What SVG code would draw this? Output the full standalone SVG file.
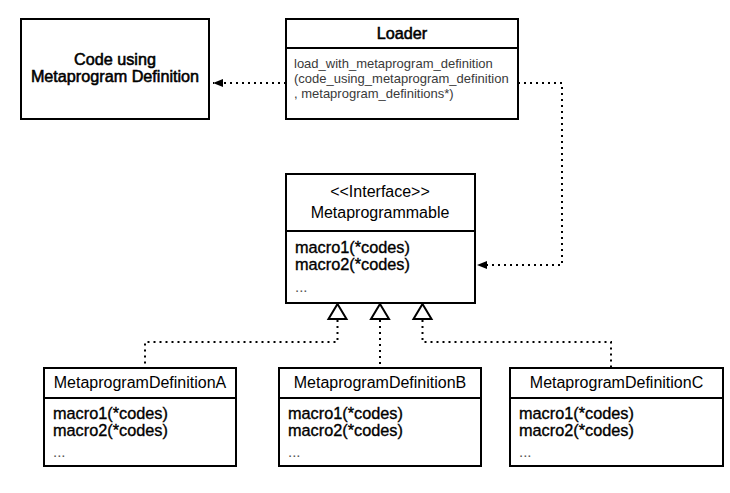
<svg xmlns="http://www.w3.org/2000/svg" width="730" height="493" viewBox="0 0 730 493">
<defs>
<style>
.box{fill:#fff;stroke:#000;stroke-width:2}
.div{stroke:#000;stroke-width:2}
.t{font-family:"Liberation Sans",Arial,sans-serif;fill:#000}
.title{font-size:16px;text-anchor:middle}
.head{font-size:16.2px;text-anchor:middle;stroke:#000;stroke-width:0.55}
.body{font-size:16.3px;stroke:#000;stroke-width:0.35}
.small{font-size:13px;fill:#3a3a3a}
.dots{font-size:15px;fill:#555}
.conn{fill:none;stroke:#000;stroke-width:2;stroke-dasharray:2 4}
.tri{fill:#fff;stroke:#000;stroke-width:2}
</style>
<marker id="arr" markerWidth="10" markerHeight="8" refX="10" refY="4" orient="auto" markerUnits="userSpaceOnUse">
<path d="M0,0 L10,4 L0,8 Z" fill="#000"/>
</marker>
</defs>
<rect width="730" height="493" fill="#fff"/>
<g id="connectors">
<path class="conn" d="M286,83 L213,83" marker-end="url(#arr)"/>
<path class="conn" d="M518,83 L562,83 L562,265 L477,265" marker-end="url(#arr)"/>
<path class="conn" d="M337.5,320 L337.5,342 L145,342 L145,367"/>
<path class="conn" d="M380,320 L380,367"/>
<path class="conn" d="M422.5,320 L422.5,342 L611,342 L611,367"/>
<path class="tri" d="M337.5,304 L346.5,319 L328.5,319 Z"/>
<path class="tri" d="M380,304 L389,319 L371,319 Z"/>
<path class="tri" d="M422.5,304 L431.5,319 L413.5,319 Z"/>
</g>
<g id="code-using">
<rect class="box" x="21" y="19" width="188" height="100"/>
<text class="t head" x="115" y="65">Code using</text>
<text class="t head" x="115" y="82">Metaprogram Definition</text>
</g>
<g id="loader">
<rect class="box" x="286" y="19" width="232" height="100"/>
<line class="div" x1="286" y1="48" x2="518" y2="48"/>
<text class="t head" x="402" y="39">Loader</text>
<text class="t small" x="294" y="68">load_with_metaprogram_definition</text>
<text class="t small" x="294" y="83">(code_using_metaprogram_definition</text>
<text class="t small" x="294" y="98">, metaprogram_definitions*)</text>
</g>
<g id="metaprogrammable">
<rect class="box" x="286" y="174" width="189" height="129"/>
<line class="div" x1="286" y1="231" x2="475" y2="231"/>
<text class="t title" x="380" y="197">&lt;&lt;Interface&gt;&gt;</text>
<text class="t title" x="380" y="218">Metaprogrammable</text>
<text class="t body" x="295" y="253">macro1(*codes)</text>
<text class="t body" x="295" y="270">macro2(*codes)</text>
<text class="t dots" x="295" y="292">...</text>
</g>
<g id="defA">
<rect class="box" x="44" y="368" width="192" height="98"/>
<line class="div" x1="44" y1="398" x2="236" y2="398"/>
<text class="t title" x="140" y="388">MetaprogramDefinitionA</text>
<text class="t body" x="53" y="419">macro1(*codes)</text>
<text class="t body" x="53" y="436">macro2(*codes)</text>
<text class="t dots" x="53" y="457">...</text>
</g>
<g id="defB">
<rect class="box" x="279" y="368" width="202" height="98"/>
<line class="div" x1="279" y1="398" x2="481" y2="398"/>
<text class="t title" x="380" y="388">MetaprogramDefinitionB</text>
<text class="t body" x="288" y="419">macro1(*codes)</text>
<text class="t body" x="288" y="436">macro2(*codes)</text>
<text class="t dots" x="288" y="457">...</text>
</g>
<g id="defC">
<rect class="box" x="510" y="368" width="213" height="98"/>
<line class="div" x1="510" y1="398" x2="723" y2="398"/>
<text class="t title" x="616.5" y="388">MetaprogramDefinitionC</text>
<text class="t body" x="519" y="419">macro1(*codes)</text>
<text class="t body" x="519" y="436">macro2(*codes)</text>
<text class="t dots" x="519" y="457">...</text>
</g>
</svg>
